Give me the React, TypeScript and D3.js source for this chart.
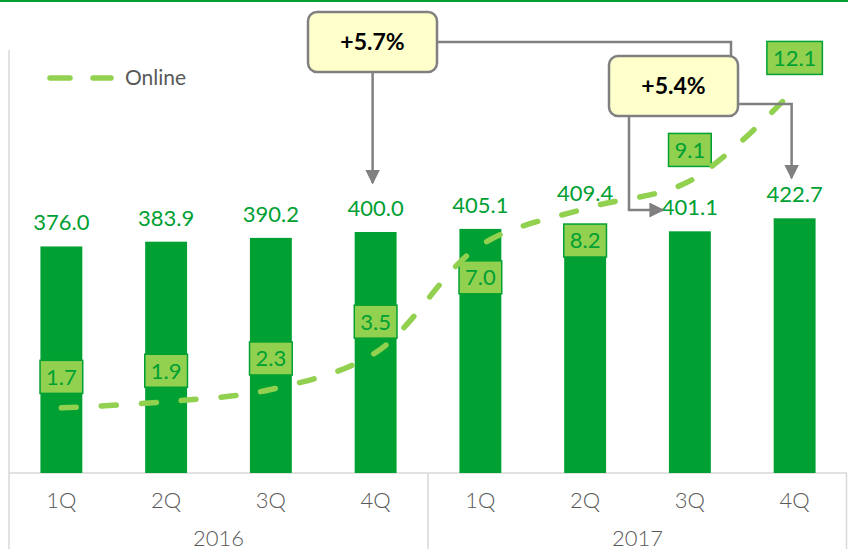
import { useEffect, useRef } from 'react';
import * as d3 from 'd3';

// quarters and years
const quarters = ['1Q', '2Q', '3Q', '4Q', '1Q', '2Q', '3Q', '4Q'];
const years = ['2016', '2016', '2016', '2016', '2017', '2017', '2017', '2017'];
const yearGroups = ['2016', '2017'];

// total sales (bars)
const totalValues = [376.0, 383.9, 390.2, 400.0, 405.1, 409.4, 401.1, 422.7];
// online sales (dashed line)
const onlineValues = [1.7, 1.9, 2.3, 3.5, 7.0, 8.2, 9.1, 12.1];

// growth callouts
const growthLabels = ['+5.7%', '+5.4%'];

const W = 848;
const H = 549;
const GREEN = '#00a032';
const LIGHT = '#92d050';
const GRAY_TXT = '#595959';
const AXIS = '#d9d9d9';
const FONT = 'Lato, "Open Sans", sans-serif';

export default function App() {
  const ref = useRef<SVGSVGElement>(null);

  useEffect(() => {
    const svg = d3.select(ref.current);
    svg.selectAll('*').remove();

    const keys = quarters.map((q, i) => years[i] + '-' + q);
    const left = 9, right = 847, base = 473;

    const x = d3.scaleBand().domain(keys).range([left, right]).paddingInner(0.6).paddingOuter(0.3);
    const cx = (i: number) => (x(keys[i]) as number) + x.bandwidth() / 2;
    const y = d3.scaleLinear().domain([0, 785]).range([base, 0]);
    const y2 = d3.scaleLinear().domain([0, 15]).range([460, 0]);

    const defs = svg.append('defs');
    defs.append('marker')
      .attr('id', 'arr')
      .attr('viewBox', '0 0 10 10')
      .attr('refX', 9).attr('refY', 5)
      .attr('markerWidth', 6).attr('markerHeight', 6)
      .attr('markerUnits', 'strokeWidth')
      .attr('orient', 'auto')
      .append('path')
      .attr('d', 'M0,0L10,5L0,10Z')
      .attr('fill', '#808080');

    // top rule
    svg.append('line')
      .attr('x1', 0).attr('x2', W).attr('y1', 1).attr('y2', 1)
      .attr('stroke', GREEN).attr('stroke-width', 2);

    // axes frame
    const frame = svg.append('g').attr('stroke', AXIS).attr('stroke-width', 1.5);
    frame.append('line').attr('x1', left).attr('x2', left).attr('y1', 50).attr('y2', H);
    frame.append('line').attr('x1', left).attr('x2', right).attr('y1', base).attr('y2', base);
    frame.append('line').attr('x1', 428).attr('x2', 428).attr('y1', base).attr('y2', H);
    frame.append('line').attr('x1', right - 0.5).attr('x2', right - 0.5).attr('y1', base).attr('y2', H);

    // bars
    svg.append('g').selectAll('rect')
      .data(totalValues)
      .join('rect')
      .attr('x', (d, i) => x(keys[i]) as number)
      .attr('y', d => y(d))
      .attr('width', x.bandwidth())
      .attr('height', d => base - y(d))
      .attr('fill', GREEN);

    // bar value labels (2Q 2017 sits a little higher to clear the online box)
    svg.append('g').selectAll('text')
      .data(totalValues)
      .join('text')
      .attr('x', (d, i) => cx(i))
      .attr('y', (d, i) => y(d) - 16 - (i === 5 ? 9 : 0))
      .attr('text-anchor', 'middle')
      .attr('font-family', FONT)
      .attr('font-size', 22)
      .attr('fill', GREEN)
      .text(d => d.toFixed(1));

    // category labels
    svg.append('g').selectAll('text')
      .data(quarters)
      .join('text')
      .attr('x', (d, i) => cx(i))
      .attr('y', 508)
      .attr('text-anchor', 'middle')
      .attr('font-family', FONT)
      .attr('font-weight', 300)
      .attr('font-size', 22)
      .attr('fill', GRAY_TXT)
      .text(d => d);

    svg.append('g').selectAll('text')
      .data(yearGroups)
      .join('text')
      .attr('x', (d, i) => i === 0 ? (left + 428) / 2 : (428 + right) / 2)
      .attr('y', 546)
      .attr('text-anchor', 'middle')
      .attr('font-family', FONT)
      .attr('font-weight', 300)
      .attr('font-size', 22)
      .attr('fill', GRAY_TXT)
      .text(d => d);

    // online value boxes (7.0 and 8.2 sit below the line)
    const below = [4, 5];
    const boxes = svg.append('g').selectAll('g')
      .data(onlineValues)
      .join('g')
      .attr('transform', (d, i) => `translate(${cx(i)},${y2(d) + (below.includes(i) ? 32 : -31)})`);
    boxes.append('rect')
      .attr('fill', LIGHT)
      .attr('stroke', GREEN)
      .attr('stroke-width', 1.5);
    boxes.append('text')
      .attr('text-anchor', 'middle')
      .attr('dy', '0.36em')
      .attr('font-family', FONT)
      .attr('font-size', 22)
      .attr('fill', GREEN)
      .text(d => d.toFixed(1));
    boxes.each(function () {
      const g = d3.select(this);
      const tw = (g.select('text').node() as SVGTextElement).getComputedTextLength();
      g.select('rect')
        .attr('x', -tw / 2 - 6).attr('y', -16.5)
        .attr('width', tw + 12).attr('height', 33);
    });

    // online dashed line
    const line = d3.line<number>()
      .x((d, i) => cx(i))
      .y(d => y2(d))
      .curve(d3.curveCatmullRom.alpha(0.5));
    svg.append('path')
      .datum(onlineValues)
      .attr('d', line)
      .attr('fill', 'none')
      .attr('stroke', LIGHT)
      .attr('stroke-width', 5.5)
      .attr('stroke-linecap', 'round')
      .attr('stroke-dasharray', '15 25');

    // legend
    svg.append('line')
      .attr('x1', 50).attr('x2', 111).attr('y1', 78).attr('y2', 78)
      .attr('stroke', LIGHT).attr('stroke-width', 5.5)
      .attr('stroke-linecap', 'round')
      .attr('stroke-dasharray', '20 23');
    svg.append('text')
      .attr('x', 125).attr('y', 78).attr('dy', '0.35em')
      .attr('font-family', FONT).attr('font-size', 21)
      .attr('fill', GRAY_TXT)
      .text('Online');

    // callouts
    const conn = svg.append('g')
      .attr('fill', 'none').attr('stroke', '#808080').attr('stroke-width', 2.5);
    // +5.7% -> 4Q 2016
    conn.append('path')
      .attr('d', `M${cx(3) - 3},72V183`)
      .attr('marker-end', 'url(#arr)');
    conn.append('path')
      .attr('d', `M437,42H731V56`);
    // +5.4% -> 3Q 2017
    conn.append('path')
      .attr('d', `M629,116V210H${cx(6) - 27}`)
      .attr('marker-end', 'url(#arr)');
    // +5.4% -> 4Q 2017
    conn.append('path')
      .attr('d', `M739,104H${cx(7) - 3}V178`)
      .attr('marker-end', 'url(#arr)');

    const callouts = [
      { x0: 308, y0: 12 },
      { x0: 609, y0: 56 },
    ];
    const cg = svg.append('g').selectAll('g')
      .data(growthLabels)
      .join('g')
      .attr('transform', (d, i) => `translate(${callouts[i].x0},${callouts[i].y0})`);
    cg.append('rect')
      .attr('width', 129).attr('height', 60)
      .attr('rx', 9)
      .attr('fill', '#ffffcc')
      .attr('stroke', '#808080')
      .attr('stroke-width', 2.5);
    cg.append('text')
      .attr('x', 64.5).attr('y', 30).attr('dy', '0.36em')
      .attr('text-anchor', 'middle')
      .attr('font-family', FONT)
      .attr('font-weight', 'bold')
      .attr('font-size', 23)
      .attr('fill', '#000')
      .text(d => d);
  }, []);

  return (
    <div style={{ position: 'absolute', left: 0, top: 0 }}>
      <svg ref={ref} width={W} height={H} style={{ display: 'block', background: '#fff' }} />
    </div>
  );
}
